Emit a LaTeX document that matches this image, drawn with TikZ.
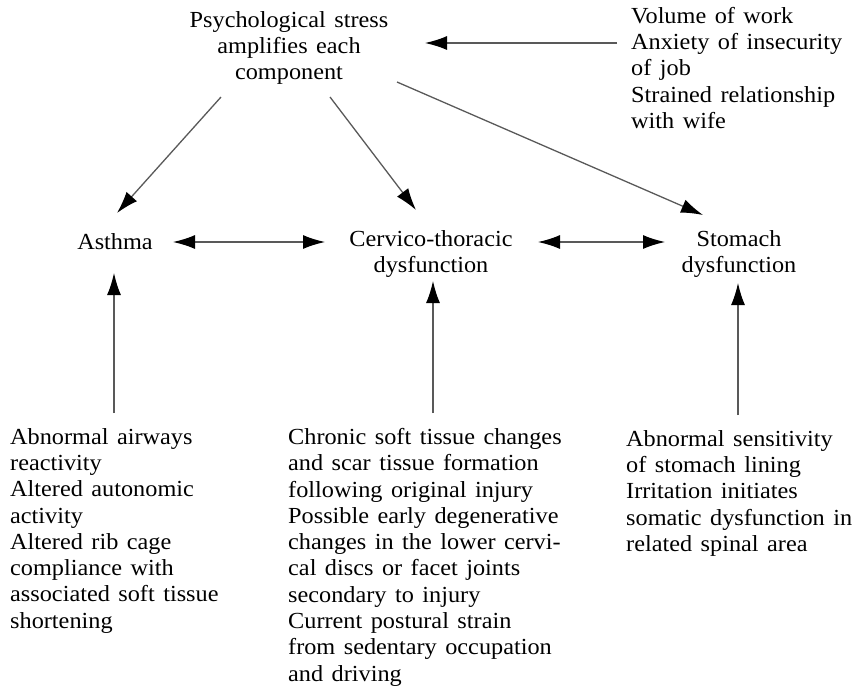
\documentclass[tikz,border=0pt]{standalone}
\usepackage{fontspec}
\setmainfont[FakeStretch=1.055,WordSpace=1.4]{Liberation Serif}
\usetikzlibrary{arrows.meta,calc}
\begin{document}
\begin{tikzpicture}[x=1pt,y=-1pt,
  txt/.style={inner sep=0pt,font=\fontsize{23}{26.3}\selectfont},
  arr/.style={draw=black!65,line width=1.3pt,-{Latex[length=22pt,width=14pt,color=black]}},
  darr/.style={draw=black!65,line width=1.3pt,{Latex[length=22pt,width=14pt,color=black]}-{Latex[length=22pt,width=14pt,color=black]}}]
\useasboundingbox (0,0) rectangle (857,689);
\node[txt,align=center] (psych) at (289,48) {Psychological stress\\amplifies each\\component};
\node[txt,align=left,anchor=north west] (vol) at (631,7) {Volume of work\\Anxiety of insecurity\\of job\\Strained relationship\\with wife};
\node[txt] (asthma) at (115,242) {Asthma};
\node[txt,align=center] (cerv) at (431,254) {Cervico-thoracic\\dysfunction};
\node[txt,align=center] (stom) at (739,254) {Stomach\\dysfunction};
\node[txt,align=left,anchor=north west] (b1) at (10,428) {Abnormal airways\\reactivity\\Altered autonomic\\activity\\Altered rib cage\\compliance with\\associated soft tissue\\shortening};
\node[txt,align=left,anchor=north west] (b2) at (288,428) {Chronic soft tissue changes\\and scar tissue formation\\following original injury\\Possible early degenerative\\changes in the lower cervi-\\cal discs or facet joints\\secondary to injury\\Current postural strain\\from sedentary occupation\\and driving};
\node[txt,align=left,anchor=north west] (b3) at (626,430) {Abnormal sensitivity\\of stomach lining\\Irritation initiates\\somatic dysfunction in\\related spinal area};
% arrows
\draw[arr] ($(vol.north west)+(-14,36)$) -- ($(psych.center)+(136,-5)$);
\draw[arr] ($(psych.center)+(-68,49)$) -- ($(asthma.center)+(2,-29)$);
\draw[arr] ($(psych.center)+(41,49)$) -- ($(cerv.center)+(-15,-44)$);
\draw[arr] ($(psych.center)+(108,34)$) -- ($(stom.center)+(-36,-39)$);
\draw[darr] ($(asthma.center)+(58,0)$) -- ($(cerv.center)+(-106,-12)$);
\draw[darr] ($(cerv.center)+(107,-12)$) -- ($(stom.center)+(-74,-12)$);
\draw[arr] ($(b1.north west)+(104,-15)$) -- ($(asthma.center)+(-1,31)$);
\draw[arr] ($(b2.north west)+(145,-15)$) -- ($(cerv.center)+(2,27)$);
\draw[arr] ($(b3.north west)+(112,-15)$) -- ($(stom.center)+(-1,29)$);
\end{tikzpicture}
\end{document}
